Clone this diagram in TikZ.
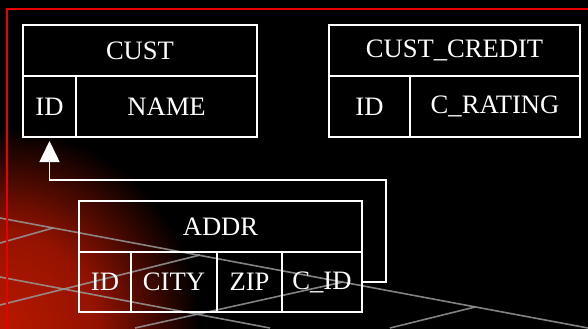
\documentclass[tikz,border=0pt]{standalone}
\usepackage{fontspec}
\setmainfont{Liberation Serif}
\usetikzlibrary{positioning,arrows.meta}

\definecolor{glowred}{RGB}{185,24,0}
\definecolor{framered}{RGB}{235,0,0}
\pgfdeclareradialshading{glow}{\pgfpoint{0bp}{0bp}}{color(0bp)=(glowred); color(12bp)=(glowred!80!black); color(25bp)=(black); color(50bp)=(black)}

\begin{document}
\begin{tikzpicture}[x=0.5pt,y=-0.5pt]
\tikzset{cell/.style = 
	{shape = rectangle,
		draw = white,
		line width = 1pt,
		text = white,
		inner sep = 0pt,
		outer sep = 0pt,
		font = \fontsize{13.3}{16}\selectfont},
	head/.style = {cell, minimum height = 25.5pt},
	field/.style = {cell, minimum height = 30.5pt},
	streak/.style = {gray!80, line width = 0.8pt, opacity = 0.85},
	link/.style = {white, line width = 0.8pt, -{Triangle[width=10pt,length=10.5pt]}, shorten >=2pt}}

% background
\useasboundingbox (0,0) rectangle (588,328);
\fill[black] (-6,-6) rectangle (594,334);
\begin{scope}
\clip (-6,-6) rectangle (594,334);
\shade[shading=glow] (0,328) circle (200);
\draw[streak] (0,218) -- (588,328);
\draw[streak] (0,243) -- (53,228);
\draw[streak] (0,277) -- (270,328);
\draw[streak] (0,305) -- (200,255);
\draw[streak] (135,328) -- (343,282);
\draw[streak] (390,328) -- (475,307);
\end{scope}
\draw[framered, line width=1pt] (594,9) -- (7,9) -- (7,334);

% CUST
\node[head, minimum width=117pt, anchor=north west] (cust) at (23,25) {CUST};
\node[field, minimum width=26.5pt, anchor=north west] (custid) at (cust.south west) {ID};
\node[field, minimum width=90.5pt, right=0pt of custid] (custname) {NAME};

% CUST_CREDIT
\node[head, minimum width=125.5pt, anchor=north west] (credit) at (329,25) {CUST\_CREDIT};
\node[field, minimum width=40.5pt, anchor=north west] (creditid) at (credit.south west) {ID};
\node[field, minimum width=85pt, right=0pt of creditid] (rating) {C\_RATING};

% ADDR
\node[head, minimum width=141.5pt, anchor=north west] (addr) at (79,201) {ADDR};
\node[field, minimum height=30pt, minimum width=26pt, anchor=north west] (addrid) at (addr.south west) {ID};
\node[field, minimum height=30pt, minimum width=43pt, right=0pt of addrid] (city) {CITY};
\node[field, minimum height=30pt, minimum width=32.5pt, right=0pt of city] (zip) {ZIP};
\node[field, minimum height=30pt, minimum width=40pt, right=0pt of zip] (addrcid) {C\_ID};

% foreign key
\coordinate (turn) at (386,180);
\draw[link] (addrcid.east) -| (turn) -| (custid.south);
\end{tikzpicture}
\end{document}
